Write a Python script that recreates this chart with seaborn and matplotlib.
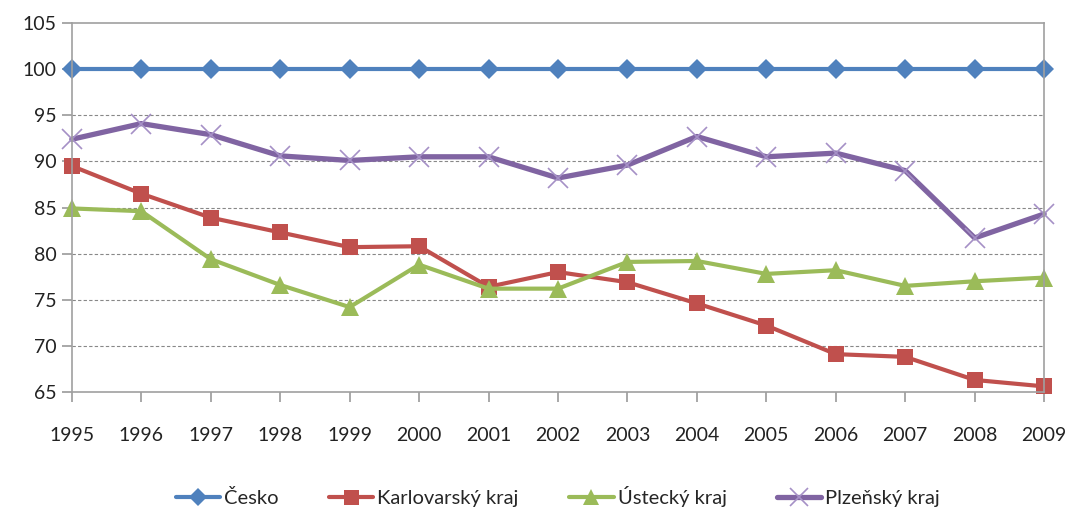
import pandas as pd
import matplotlib.pyplot as plt
import seaborn as sns

years = list(range(1995, 2010))
cesko = [100] * 15
karlovarsky = [89.5, 86.5, 83.9, 82.3, 80.7, 80.8, 76.4, 78.0, 76.9, 74.6, 72.2, 69.1, 68.8, 66.3, 65.6]
ustecky = [84.9, 84.6, 79.4, 76.6, 74.2, 78.8, 76.2, 76.2, 79.1, 79.2, 77.8, 78.2, 76.5, 77.0, 77.4]
plzensky = [92.4, 94.1, 92.9, 90.6, 90.1, 90.5, 90.5, 88.2, 89.6, 92.7, 90.5, 90.9, 89.0, 81.7, 84.3]

series = {
    "Česko": cesko,
    "Karlovarský kraj": karlovarsky,
    "Ústecký kraj": ustecky,
    "Plzeňský kraj": plzensky,
}
yticks = [65, 70, 75, 80, 85, 90, 95, 100, 105]

data = pd.DataFrame(
    [(y, name, v) for name, vals in series.items() for y, v in zip(years, vals)],
    columns=["year", "region", "value"],
)

styles = {
    "Česko": dict(color="#4F81BD", marker="D", markersize=10.5, lw=3),
    "Karlovarský kraj": dict(color="#C0504D", marker="s", markersize=12, lw=3),
    "Ústecký kraj": dict(color="#9BBB59", marker="^", markersize=13, lw=3),
    "Plzeňský kraj": dict(color="#8064A2", marker="x", markersize=14, lw=3.8,
                          markeredgecolor="#A590C6", markeredgewidth=1.2),
}

sns.set_theme(style="white")
plt.rcParams["font.family"] = ["Lato", "DejaVu Sans"]

fig = plt.figure(figsize=(10.72, 5.13), dpi=100)
ax = fig.add_axes([0.067, 0.236, 0.907, 0.719])

for name in series:
    st = dict(styles[name])
    sub = data[data["region"] == name]
    sns.lineplot(data=sub, x="year", y="value", ax=ax, label=name,
                 markeredgewidth=st.pop("markeredgewidth", 0), clip_on=False,
                 **st)

ax.set_xlim(1995, 2009)
ax.set_ylim(65, 105)
ax.set_xticks(years)
ax.set_yticks(yticks)
ax.tick_params(axis="both", bottom=True, left=True, labelsize=14,
               length=7, width=1.2, direction="out", color="#999999",
               labelcolor="#222222")
ax.tick_params(axis="x", pad=18)
ax.tick_params(axis="y", pad=4)
ax.set_xlabel("")
ax.set_ylabel("")

for t in [70, 75, 80, 85, 90, 95]:
    ax.axhline(t, color="#888888", lw=0.8, ls=(0, (3, 2)), zorder=0)

for s in ax.spines.values():
    s.set_color("#A0A0A0")
    s.set_linewidth(1.2)

ax.legend(loc="upper center", bbox_to_anchor=(0.5, -0.205), ncol=4,
          frameon=False, fontsize=14.5, handlelength=2.2, columnspacing=2.5,
          handletextpad=0.2, markerscale=0.9)

fig.savefig("out.png", dpi=100)
